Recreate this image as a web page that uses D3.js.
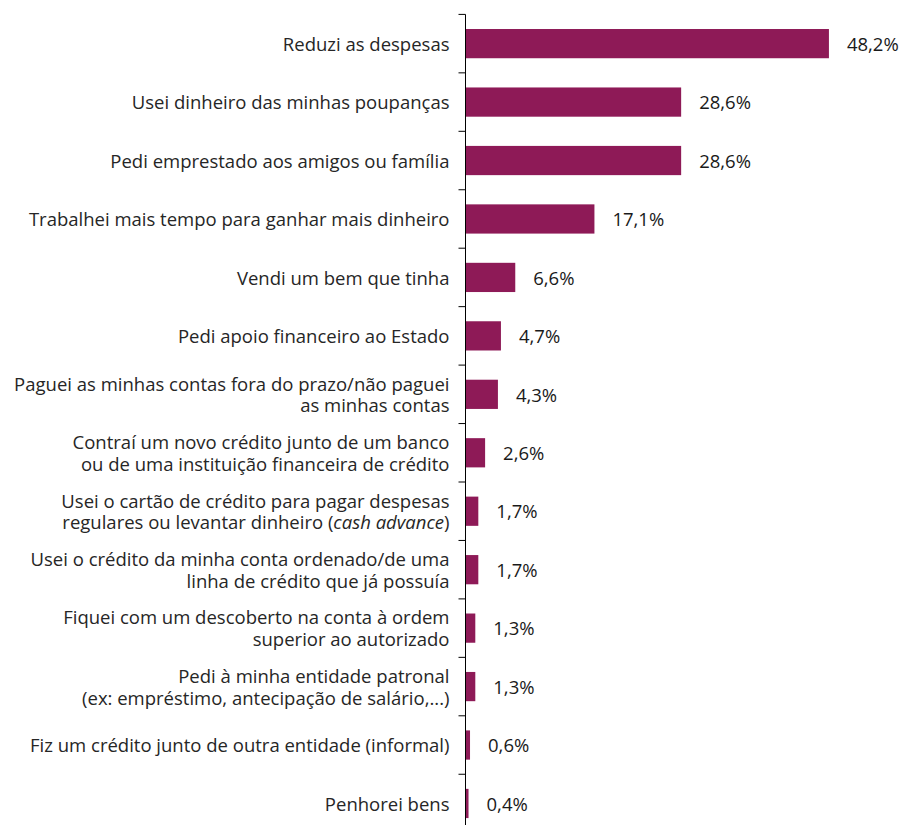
<!DOCTYPE html>
<html><head><meta charset="utf-8">
<script src="https://cdn.jsdelivr.net/npm/d3@7"></script>
<style>body{margin:0;background:#fff}</style>
</head><body>
<svg id="c" width="902" height="825"></svg>
<script>
const categories = [
  "Reduzi as despesas",
  "Usei dinheiro das minhas poupanças",
  "Pedi emprestado aos amigos ou família",
  "Trabalhei mais tempo para ganhar mais dinheiro",
  "Vendi um bem que tinha",
  "Pedi apoio financeiro ao Estado",
  "Paguei as minhas contas fora do prazo/não paguei|as minhas contas",
  "Contraí um novo crédito junto de um banco|ou de uma instituição financeira de crédito",
  "Usei o cartão de crédito para pagar despesas|regulares ou levantar dinheiro (*cash advance*)",
  "Usei o crédito da minha conta ordenado/de uma|linha de crédito que já possuía",
  "Fiquei com um descoberto na conta à ordem|superior ao autorizado",
  "Pedi à minha entidade patronal|(ex: empréstimo, antecipação de salário,...)",
  "Fiz um crédito junto de outra entidade (informal)",
  "Penhorei bens"
];
const values = [48.2, 28.6, 28.6, 17.1, 6.6, 4.7, 4.3, 2.6, 1.7, 1.7, 1.3, 1.3, 0.6, 0.4];
const valueLabels = ["48,2%","28,6%","28,6%","17,1%","6,6%","4,7%","4,3%","2,6%","1,7%","1,7%","1,3%","1,3%","0,6%","0,4%"];

const svg = d3.select("#c");
const x0 = 465.5;
const step = 58.45;
const top0 = 14.4;
const x = d3.scaleLinear().domain([0, 50]).range([x0, x0 + 377]);
const y = d3.scaleBand().domain(d3.range(categories.length)).range([top0, top0 + step*14]).paddingInner(0.5).paddingOuter(0.25);
const yb = d3.scaleBand().domain(d3.range(categories.length)).range([top0, top0 + step*14]);
const font = "'Open Sans', sans-serif";
const fs = 18.5;
const base = 7.2;   // baseline offset from band centre
const lh = 21.8;

// bars
svg.append("g").selectAll("rect").data(values).join("rect")
  .attr("x", x(0))
  .attr("y", (d,i) => y(i))
  .attr("width", d => x(d) - x(0))
  .attr("height", y.bandwidth())
  .attr("fill", "#8E1A57");

// axis with ticks at band boundaries
const ag = svg.append("g").attr("transform", `translate(${x0},0)`);
const bounds = d3.range(categories.length + 1).map(i => top0 + step*i);
ag.selectAll("line.b").data(bounds).join("line").attr("class","b")
  .attr("x1", -7).attr("x2", 0).attr("y1", d => d).attr("y2", d => d)
  .attr("stroke", "#000").attr("stroke-width", 1);
ag.append("line").attr("x1",0).attr("x2",0).attr("y1",top0).attr("y2",830).attr("stroke","#000").attr("stroke-width",1);

// value labels
svg.append("g").selectAll("text").data(values).join("text")
  .attr("x", d => x(d) + 18)
  .attr("y", (d,i) => yb(i) + yb.bandwidth()/2 + base)
  .attr("font-family", font).attr("font-size", fs).attr("fill", "#1a1a1a")
  .text((d,i) => valueLabels[i]);

// category labels (one text element per category, lines as tspans)
const lg = svg.append("g");
categories.forEach((c, i) => {
  const lines = c.split("|");
  const cy = yb(i) + yb.bandwidth()/2;
  const t = lg.append("text")
    .attr("text-anchor", "end")
    .attr("font-family", font).attr("font-size", fs).attr("fill", "#262626");
  lines.forEach((ln, j) => {
    const ly = cy + base + (j - (lines.length-1)/2) * lh;
    const parts = ln.split("*");
    let first = true;
    parts.forEach((p, k) => {
      if (!p) return;
      const ts = t.append("tspan").attr("font-style", k % 2 ? "italic" : "normal").text(p);
      if (first) { ts.attr("x", 449.5).attr("y", ly); first = false; }
    });
  });
});
</script>
</body></html>
